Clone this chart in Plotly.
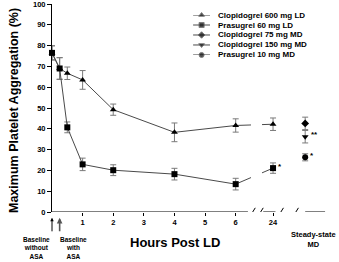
import plotly.graph_objects as go

# ---------------- data ----------------
# x positions on the (broken) hours axis; "24" h sits after the break
hours_x = [0, 0.25, 0.5, 1, 2, 4, 6, 7.22]
md_x = [8.27]

clop600_y = [76.5, 69, 66.7, 63.5, 49.2, 38.3, 41.6, 42.2]
clop600_err = [3.4, 5.2, 3.0, 4.5, 2.7, 4.5, 3.2, 3.0]

pras60_y = [76.5, 69, 40.7, 22.9, 20.1, 18.2, 13.4, 21.1]
pras60_err = [3.4, 5.2, 2.6, 3.0, 2.6, 2.8, 2.8, 2.5]

clop75_md_y = [42.6]
clop75_md_err = [3.0]
clop150_md_y = [36.2]
clop150_md_err = [3.0]
pras10_md_y = [26.3]
pras10_md_err = [1.7]

tick_vals = [1, 2, 3, 4, 5, 6, 7.22]
tick_text = ["1", "2", "3", "4", "5", "6", "24"]

series_names = ["Clopidogrel 600 mg LD", "Prasugrel 60 mg LD", "Clopidogrel 75 mg MD",
                "Clopidogrel 150 mg MD", "Prasugrel 10 mg MD"]
series_symbols = ["triangle-up", "square", "diamond", "triangle-down", "circle"]

# asterisk annotations (prasugrel LD points after baseline)
pras60_star_idx = [2, 3, 4, 5, 6, 7]

FONT = "Liberation Sans, Arial, sans-serif"
LINE_C = "#4a4a4a"
ERR_C = "#7a7a7a"

fig = go.Figure()


def add_series(x, y, err, symbol, mode="lines+markers"):
    fig.add_trace(go.Scatter(
        x=x, y=y, mode=mode,
        line=dict(color=LINE_C, width=1),
        marker=dict(symbol=symbol, size=6, color="black"),
        error_y=dict(type="data", array=err, visible=True, color=ERR_C,
                     thickness=1, width=3),
        showlegend=False, cliponaxis=False))


add_series(hours_x, clop600_y, clop600_err, "triangle-up")
add_series(hours_x, pras60_y, pras60_err, "square")
add_series(md_x, clop75_md_y, clop75_md_err, "diamond", mode="markers")
add_series(md_x, clop150_md_y, clop150_md_err, "triangle-down", mode="markers")
add_series(md_x, pras10_md_y, pras10_md_err, "circle", mode="markers")

# ---------------- manual compact legend (on its own small axes) ----------------
for i, (name, sym) in enumerate(zip(series_names, series_symbols)):
    fig.add_trace(go.Scatter(
        x=[0, 0.5, 1], y=[i, i, i], mode="lines+markers",
        line=dict(color=LINE_C, width=1),
        marker=dict(symbol=sym, size=[0, 5, 0], color="black"),
        xaxis="x2", yaxis="y2", showlegend=False, cliponaxis=False,
        hoverinfo="skip"))
    fig.add_annotation(text="<b>%s</b>" % name, xref="paper", yref="y2",
                       x=0.599, y=i, xanchor="left", yanchor="middle",
                       showarrow=False, font=dict(size=8, family=FONT, color="black"))

annotations = []
# asterisks
for idx in pras60_star_idx:
    annotations.append(dict(x=hours_x[idx], y=pras60_y[idx], text="<b>*</b>",
                            xshift=7, yshift=2, showarrow=False,
                            font=dict(size=8, family=FONT, color="black")))
annotations.append(dict(x=md_x[0], y=clop150_md_y[0], text="<b>**</b>", xshift=9,
                        yshift=2, showarrow=False, font=dict(size=8, family=FONT, color="black")))
annotations.append(dict(x=md_x[0], y=pras10_md_y[0], text="<b>*</b>", xshift=7,
                        yshift=2, showarrow=False, font=dict(size=8, family=FONT, color="black")))

# axis titles
annotations.append(dict(xref="paper", yref="paper", x=-0.139, y=0.49, textangle=-90,
                        text="<b>Maximum Platelet Aggregation (%)</b>", showarrow=False,
                        xanchor="center", yanchor="middle",
                        font=dict(size=12.5, family=FONT, color="black")))
annotations.append(dict(xref="paper", yref="paper", x=0.449, y=-0.149,
                        text="<b>Hours Post LD</b>", showarrow=False,
                        xanchor="center", yanchor="middle",
                        font=dict(size=13, family=FONT, color="black")))
# steady state label
annotations.append(dict(xref="x", yref="paper", x=8.53, y=-0.077,
                        text="<b>Steady-state<br>MD</b>", showarrow=False,
                        xanchor="center", yanchor="top",
                        font=dict(size=7.5, family=FONT, color="black")))
# baseline labels and arrows
annotations.append(dict(xref="paper", yref="paper", x=-0.058, y=-0.108,
                        text="<b>Baseline<br>without<br>ASA</b>", showarrow=False,
                        xanchor="center", yanchor="top",
                        font=dict(size=6.5, family=FONT, color="black")))
annotations.append(dict(xref="paper", yref="paper", x=0.080, y=-0.108,
                        text="<b>Baseline<br>with<br>ASA</b>", showarrow=False,
                        xanchor="center", yanchor="top",
                        font=dict(size=6.5, family=FONT, color="black")))
for bx, w, col in [(hours_x[0], 1, "black"), (hours_x[1], 1.6, "#555")]:
    annotations.append(dict(xref="x", yref="paper", x=bx, y=-0.028, ax=0, ay=15,
                            text="", showarrow=True, arrowhead=2, arrowsize=0.7,
                            arrowwidth=w, arrowcolor=col))

# ---------------- broken x axis drawn as shapes ----------------
shapes = []
# white gap in the data lines at the break
shapes.append(dict(type="rect", xref="x", yref="paper", x0=6.5, x1=6.86, y0=0.03, y1=0.97,
                   fillcolor="white", line=dict(width=0), layer="above"))
for x0, x1 in [(0, 6.4), (6.9, 7.3), (8.27, 8.92)]:
    shapes.append(dict(type="line", xref="x", yref="y", x0=x0, x1=x1, y0=0, y1=0,
                       line=dict(color="black", width=1), layer="above"))
for sx in [6.47, 6.73, 7.39, 7.88]:
    shapes.append(dict(type="line", xref="x", yref="y", x0=sx, x1=sx + 0.17, y0=-2, y1=2,
                       line=dict(color="black", width=1), layer="above"))

fig.update_layout(
    width=339, height=262,
    margin=dict(l=52, r=13, t=4, b=50, autoexpand=False),
    paper_bgcolor="white", plot_bgcolor="white",
    showlegend=False,
    font=dict(family=FONT, color="black"),
    xaxis=dict(range=[0, 8.95], showline=False, showgrid=False, zeroline=False,
               automargin=False, ticklabeloverflow="allow",
               tickmode="array", tickvals=tick_vals, ticktext=["<b>%s</b>" % t for t in tick_text],
               ticks="outside", ticklen=3, tickcolor="black",
               tickfont=dict(size=7.5, family=FONT, color="black")),
    yaxis=dict(range=[0, 100], showline=True, linecolor="black", linewidth=1,
               automargin=False, ticklabeloverflow="allow",
               showgrid=False, zeroline=False, tickmode="linear", tick0=0, dtick=10,
               ticks="outside", ticklen=4, tickcolor="black",
               tickprefix="<b>", ticksuffix="</b>",
               tickfont=dict(size=7.5, family=FONT, color="black")),
    xaxis2=dict(domain=[0.515, 0.577], range=[0, 1], visible=False, anchor="y2",
                automargin=False),
    yaxis2=dict(domain=[0.755, 0.947], range=[4, 0], visible=False, anchor="x2",
                automargin=False),
    annotations=annotations,
    shapes=shapes,
)

fig.write_html("out.html", config={"displayModeBar": False},
               post_script="document.body.style.margin='0';document.body.style.overflow='hidden';")
